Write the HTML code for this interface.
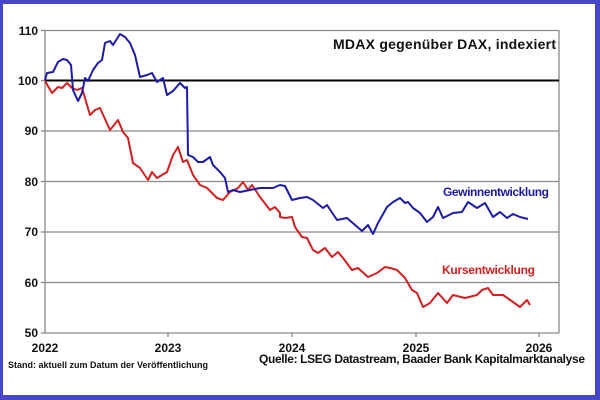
<!DOCTYPE html>
<html><head><meta charset="utf-8"><style>
html,body{margin:0;padding:0;background:#4848c8;}
svg{display:block}
text{font-family:"Liberation Sans",Arial,sans-serif;font-weight:bold}
</style></head><body>
<svg width="600" height="400" viewBox="0 0 600 400">
<rect x="0" y="0" width="600" height="400" fill="#4646c6"/>
<rect x="3" y="4" width="592" height="391" fill="#ffffff"/>
<g stroke="#8a8a8a" stroke-width="1.3">
<line x1="45" y1="30.5" x2="559" y2="30.5"/>
<line x1="45" y1="131" x2="559" y2="131"/>
<line x1="45" y1="181.5" x2="559" y2="181.5"/>
<line x1="45" y1="232" x2="559" y2="232"/>
<line x1="45" y1="282.5" x2="559" y2="282.5"/>
<line x1="45" y1="333" x2="559" y2="333"/>
<line x1="45" y1="30" x2="45" y2="333"/>
<line x1="559" y1="30" x2="559" y2="333"/>
<line x1="168" y1="333" x2="168" y2="337"/>
<line x1="292" y1="333" x2="292" y2="337"/>
<line x1="416" y1="333" x2="416" y2="337"/>
<line x1="539" y1="333" x2="539" y2="337"/>
<line x1="41" y1="30.5" x2="45" y2="30.5"/>
<line x1="41" y1="80.5" x2="45" y2="80.5"/>
<line x1="41" y1="131" x2="45" y2="131"/>
<line x1="41" y1="181.5" x2="45" y2="181.5"/>
<line x1="41" y1="232" x2="45" y2="232"/>
<line x1="41" y1="282.5" x2="45" y2="282.5"/>
<line x1="41" y1="333" x2="45" y2="333"/>
</g>
<line x1="45" y1="80.5" x2="559" y2="80.5" stroke="#000" stroke-width="2"/>
<g font-size="12" fill="#111" text-anchor="end">
<text x="38" y="35">110</text><text x="38" y="85">100</text><text x="38" y="135">90</text>
<text x="38" y="186">80</text><text x="38" y="236">70</text><text x="38" y="287">60</text><text x="38" y="337">50</text>
</g>
<g font-size="12" fill="#111" text-anchor="middle">
<text x="45" y="352">2022</text><text x="168" y="352">2023</text><text x="292" y="352">2024</text><text x="416" y="352">2025</text><text x="539" y="352">2026</text>
</g>
<text x="333" y="49" font-size="14" fill="#111" textLength="223">MDAX gegenüber DAX, indexiert</text>
<text x="443" y="196" font-size="12" fill="#1a1aa0" textLength="106">Gewinnentwicklung</text>
<text x="442" y="274" font-size="12" fill="#d02020" textLength="93">Kursentwicklung</text>
<text x="8" y="368" font-size="9" fill="#111">Stand: aktuell zum Datum der Veröffentlichung</text>
<text x="259" y="363" font-size="12" fill="#111" textLength="326">Quelle: LSEG Datastream, Baader Bank Kapitalmarktanalyse</text>
<polyline fill="none" stroke="#d42020" stroke-width="2" stroke-linejoin="round" points="45,81 52,93 58,87 62,88 67,83 72,88 77,90 82,88 90,115 95,110 100,108 110,130 118,120 123,132 128,138 133,163 140,168 148,180 152,172 157,178 167,172 173,155 178,147 183,162 187,160 193,175 200,185 207,188 217,198 223,200 230,192 238,188 243,182 248,190 252,185 260,197 270,210 275,207 280,213 280,217 285,218 292,217 295,227 302,237 307,238 313,250 318,253 325,248 332,257 338,252 343,258 352,270 358,268 368,277 377,273 385,267 390,268 397,270 405,278 412,290 417,293 423,307 430,303 438,293 447,303 453,295 465,298 477,295 482,290 488,288 493,295 503,295 513,302 520,307 527,300 530,305"/>
<polyline fill="none" stroke="#1c1ca8" stroke-width="2" stroke-linejoin="round" points="45,80 47,73 53,72 58,62 63,59 67,60 71,65 73,90 78,101 82,93 85,78 88,81 93,70 98,63 102,60 105,43 110,41 113,45 120,34 125,37 130,43 135,55 140,77 147,75 152,73 157,82 163,78 167,95 173,91 180,83 185,88 187,87 188,155 193,157 198,162 203,162 210,157 213,165 220,172 225,178 228,192 233,190 240,192 250,190 260,188 273,188 280,185 285,186 292,200 300,198 307,197 313,200 323,208 327,205 337,220 347,218 362,231 368,225 373,234 378,223 387,207 393,202 400,198 405,203 408,202 413,208 420,213 427,222 433,217 438,207 443,218 453,213 462,212 468,202 477,208 485,203 493,217 500,212 507,218 513,214 520,217 528,219"/>
</svg>
</body></html>
